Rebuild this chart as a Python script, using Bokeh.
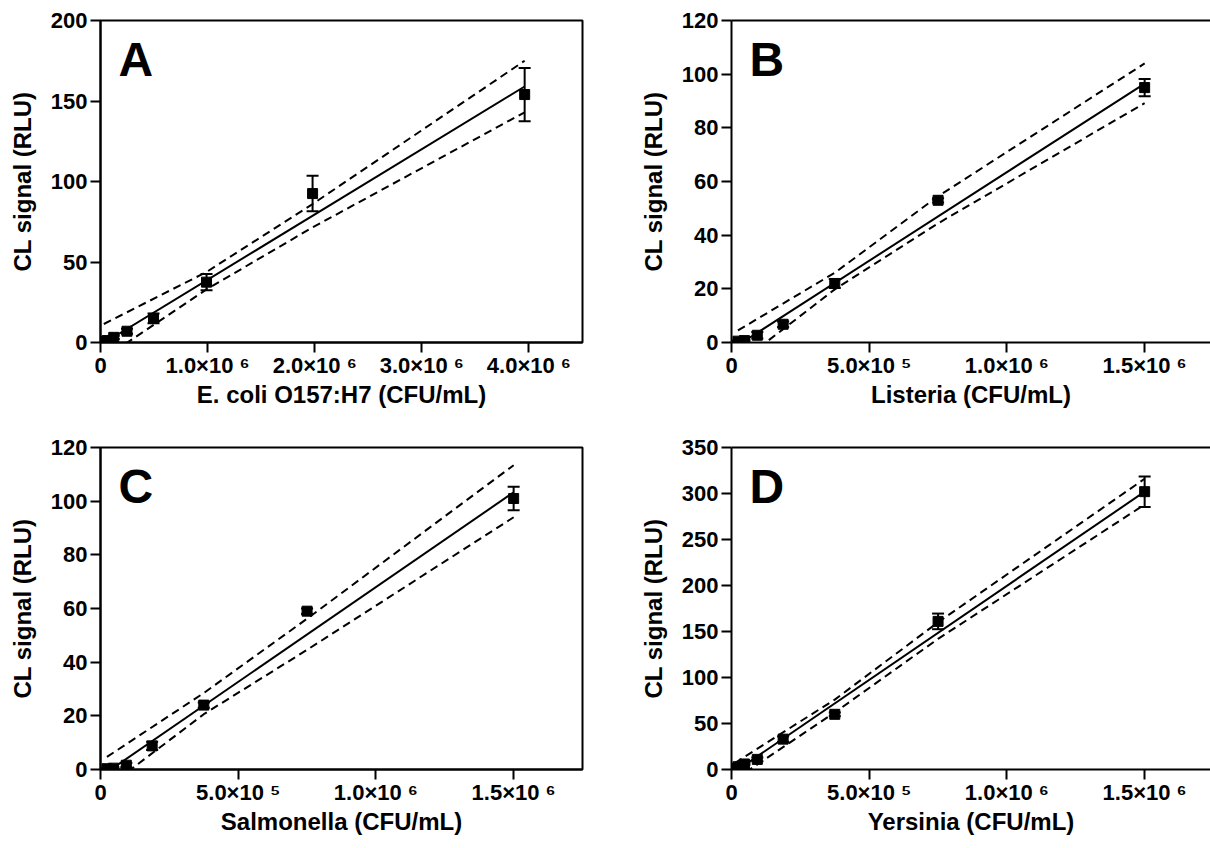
from bokeh.plotting import figure
from bokeh.models import (Range1d, ColumnDataSource, Whisker, TeeHead, Label,
                          LinearAxis, FixedTicker)
from bokeh.layouts import column, row
from bokeh.embed import file_html
from bokeh.resources import INLINE

# ---------------- data ----------------
# Panel A : E. coli O157:H7
a_x = [3.09e4, 6.19e4, 1.2375e5, 2.475e5, 4.95e5, 9.9e5, 1.98e6, 3.96e6]
a_y = [0.5, 1.2, 3.2, 7.0, 15.0, 37.5, 92.5, 154.0]
a_err = [0.3, 0.5, 1.0, 1.5, 3.0, 5.0, 11.0, 16.5]
a_fit_x = [3.09e4, 3.96e6]
a_fit_y = [-0.3, 159.0]
a_band_x = [3.09e4, 9.9e5, 1.98e6, 3.96e6]
a_band_hi = [11.5, 43.8, 86.0, 175.0]
a_band_lo = [-9.8, 33.0, 71.5, 143.0]

# Panel B : Listeria
b_x = [2.34e4, 4.69e4, 9.375e4, 1.875e5, 3.75e5, 7.5e5, 1.5e6]
b_y = [0.5, 0.7, 2.7, 6.8, 22.0, 53.0, 95.0]
b_err = [0.2, 0.3, 1.2, 1.0, 1.7, 0.8, 3.2]
b_fit_x = [2.34e4, 1.5e6]
b_fit_y = [-1.0, 96.5]
b_band_x = [2.34e4, 3.75e5, 7.5e5, 1.5e6]
b_band_hi = [4.5, 26.0, 54.5, 104.0]
b_band_lo = [-8.0, 19.8, 44.4, 89.2]

# Panel C : Salmonella
c_x = [2.34e4, 4.69e4, 9.375e4, 1.875e5, 3.75e5, 7.5e5, 1.5e6]
c_y = [0.3, 0.5, 1.6, 8.8, 24.0, 59.0, 101.0]
c_err = [0.2, 0.3, 0.8, 1.5, 1.0, 1.0, 4.4]
c_fit_x = [2.34e4, 1.5e6]
c_fit_y = [-1.0, 103.3]
c_band_x = [2.34e4, 3.75e5, 7.5e5, 1.5e6]
c_band_hi = [4.7, 28.5, 56.2, 113.4]
c_band_lo = [-6.7, 20.6, 44.6, 94.0]

# Panel D : Yersinia
d_x = [1.17e4, 2.34e4, 4.69e4, 9.375e4, 1.875e5, 3.75e5, 7.5e5, 1.5e6]
d_y = [1.0, 3.0, 6.0, 11.0, 33.0, 60.0, 161.0, 302.0]
d_err = [0.5, 1.0, 1.0, 2.0, 3.0, 2.0, 8.5, 16.6]
d_fit_x = [1.17e4, 1.5e6]
d_fit_y = [-2.5, 302.0]
d_band_x = [1.17e4, 3.75e5, 7.5e5, 1.5e6]
d_band_hi = [7.0, 76.0, 160.0, 316.0]
d_band_lo = [-11.0, 62.0, 142.0, 288.0]

# tick labels
a_xticks = [0, 1000000, 2000000, 3000000, 4000000]
a_xlabels = ["0", "1.0×10 ⁶", "2.0×10 ⁶", "3.0×10 ⁶", "4.0×10 ⁶"]
bcd_xticks = [0, 500000, 1000000, 1500000]
bcd_xlabels = ["0", "5.0×10 ⁵", "1.0×10 ⁶", "1.5×10 ⁶"]
a_yticks = [0, 50, 100, 150, 200]
bc_yticks = [0, 20, 40, 60, 80, 100, 120]
d_yticks = [0, 50, 100, 150, 200, 250, 300, 350]

x_titles = ["E. coli O157:H7 (CFU/mL)", "Listeria (CFU/mL)",
            "Salmonella (CFU/mL)", "Yersinia (CFU/mL)"]
y_title = "CL signal (RLU)"
letters = ["A", "B", "C", "D"]

FONT = "Liberation Sans"


def make_panel(xs, ys, errs, fit_x, fit_y, band_x, band_hi, band_lo,
               x_end, y_end, xticks, xlabels, yticks, xtitle, letter,
               width, height, mbl, mbr, mbt, mbb, boxed):
    frame_w = width - mbl - mbr
    frame_h = height - mbt - mbb
    p = figure(width=width, height=height,
               x_range=Range1d(0, x_end), y_range=Range1d(0, y_end),
               output_backend="svg", toolbar_location=None,
               min_border_left=mbl, min_border_right=mbr,
               min_border_top=mbt, min_border_bottom=mbb)
    p.grid.visible = False
    p.background_fill_color = "white"
    p.border_fill_color = "white"

    xa = p.below[0]
    ya = p.left[0]
    for ax in (xa, ya):
        ax.axis_line_width = 2
        ax.axis_line_color = "black"
        ax.major_tick_line_width = 2
        ax.major_tick_line_color = "black"
        ax.major_tick_out = 10
        ax.major_tick_in = 0
        ax.minor_tick_line_color = None
        ax.major_label_text_font = FONT
        ax.major_label_text_font_style = "bold"
        ax.major_label_text_font_size = "22px"
        ax.major_label_text_color = "black"
        ax.axis_label_text_font = FONT
        ax.axis_label_text_font_style = "bold"
        ax.axis_label_text_font_size = "24px"
        ax.axis_label_text_color = "black"
    xa.major_label_standoff = 0
    ya.major_label_standoff = 3
    xa.axis_label_standoff = 0
    ya.axis_label_standoff = 12

    xa.ticker = FixedTicker(ticks=xticks)
    xa.major_label_overrides = {t: l for t, l in zip(xticks, xlabels)}
    ya.ticker = FixedTicker(ticks=yticks)
    xa.axis_label = xtitle
    ya.axis_label = y_title

    if boxed:
        p.outline_line_color = "black"
        p.outline_line_width = 2
        p.outline_line_alpha = 1.0
    else:
        p.outline_line_color = None
        top = LinearAxis(ticker=FixedTicker(ticks=[]),
                         major_label_text_font_size="0px",
                         axis_line_width=2, axis_line_color="black",
                         major_tick_line_color=None,
                         minor_tick_line_color=None)
        p.add_layout(top, "above")

    p.line(band_x, band_hi, line_color="black", line_width=2, line_dash="8 5")
    p.line(band_x, band_lo, line_color="black", line_width=2, line_dash="8 5")
    p.line(fit_x, fit_y, line_color="black", line_width=2)

    src = ColumnDataSource(dict(
        x=xs, y=ys,
        lower=[y - e for y, e in zip(ys, errs)],
        upper=[y + e for y, e in zip(ys, errs)]))
    wh = Whisker(base="x", upper="upper", lower="lower", source=src,
                 line_color="black", line_width=2,
                 upper_head=TeeHead(size=12, line_width=2, line_color="black"),
                 lower_head=TeeHead(size=12, line_width=2, line_color="black"))
    p.add_layout(wh)
    p.scatter("x", "y", source=src, marker="square", size=10,
              fill_color="black", line_color="black")

    lab = Label(x=x_end * 18.0 / frame_w, y=y_end * (1 - 39.0 / frame_h),
                text=letter, text_font=FONT, text_font_style="bold",
                text_font_size="48px", text_color="black",
                text_baseline="alphabetic")
    p.add_layout(lab)
    return p


LW, RW = 608, 602
TH, BH = 425, 415
x_end_right = 1.75e6 * (RW - 123) / 482.0

pA = make_panel(a_x, a_y, a_err, a_fit_x, a_fit_y, a_band_x, a_band_hi, a_band_lo,
                4.5e6, 200, a_xticks, a_xlabels, a_yticks, x_titles[0], letters[0],
                LW, TH, 100, 26, 19, 83, True)
pB = make_panel(b_x, b_y, b_err, b_fit_x, b_fit_y, b_band_x, b_band_hi, b_band_lo,
                x_end_right, 120, bcd_xticks, bcd_xlabels, bc_yticks, x_titles[1], letters[1],
                RW, TH, 123, 0, 20, 82, False)
pC = make_panel(c_x, c_y, c_err, c_fit_x, c_fit_y, c_band_x, c_band_hi, c_band_lo,
                1.75e6, 120, bcd_xticks, bcd_xlabels, bc_yticks, x_titles[2], letters[2],
                LW, BH, 100, 26, 22, 71, True)
pD = make_panel(d_x, d_y, d_err, d_fit_x, d_fit_y, d_band_x, d_band_hi, d_band_lo,
                x_end_right, 350, bcd_xticks, bcd_xlabels, d_yticks, x_titles[3], letters[3],
                RW, BH, 123, 0, 22, 71, False)

layout = column(row(pA, pB), row(pC, pD))
open("out.html", "w").write(file_html(layout, INLINE))
